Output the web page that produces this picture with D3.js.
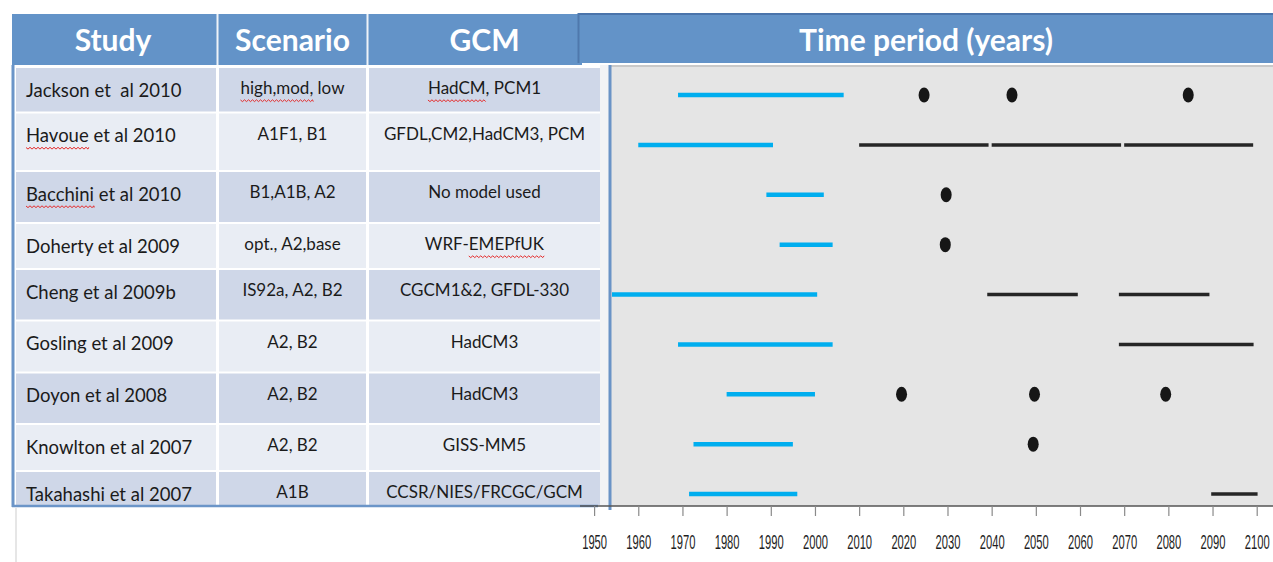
<!DOCTYPE html>
<html>
<head>
<meta charset="utf-8">
<script src="https://cdn.jsdelivr.net/npm/d3@7"></script>
<style>
  body { margin: 0; background: #fff; }
  svg { display: block; }
  text { white-space: pre; }
</style>
</head>
<body>
<div id="chart"></div>
<script>
// table columns
const studies = [
  "Jackson et  al 2010", "Havoue et al 2010", "Bacchini et al 2010",
  "Doherty et al 2009", "Cheng et al 2009b", "Gosling et al 2009",
  "Doyon et al 2008", "Knowlton et al 2007", "Takahashi et al 2007"
];
const scenarios = [
  "high,mod, low", "A1F1, B1", "B1,A1B, A2", "opt., A2,base", "IS92a, A2, B2",
  "A2, B2", "A2, B2", "A2, B2", "A1B"
];
const gcms = [
  "HadCM, PCM1", "GFDL,CM2,HadCM3, PCM", "No model used", "WRF-EMEPfUK",
  "CGCM1&2, GFDL-330", "HadCM3", "HadCM3", "GISS-MM5", "CCSR/NIES/FRCGC/GCM"
];

// time periods (years), one entry per study
const baseline = [
  [1969, 2006.5], [1960, 1990.5], [1989, 2002], [1992, 2004], [1954, 2000.5],
  [1969, 2004], [1980, 2000], [1972.5, 1995], [1971.5, 1996]
];
const future = [
  [],
  [[2010, 2039.3], [2040, 2069.3], [2070, 2099.2]],
  [],
  [],
  [[2039, 2059.5], [2068.8, 2089.3]],
  [[2068.8, 2099.3]],
  [],
  [],
  [[2089.7, 2100.2]]
];
const futurePoints = [
  [2024.7, 2044.6, 2084.5], [], [2029.7], [2029.5], [], [],
  [2019.6, 2049.7, 2079.4], [2049.4], []
];
const tickYears = [1950, 1960, 1970, 1980, 1990, 2000, 2010, 2020, 2030,
  2040, 2050, 2060, 2070, 2080, 2090, 2100];

const headers = ["Study", "Scenario", "GCM"];
const plotTitle = "Time period (years)";

// words with the spell-check squiggle
const spellMarks = [
  { row: 0, col: 1, word: "high,mod," },
  { row: 0, col: 2, word: "HadCM" },
  { row: 1, col: 0, word: "Havoue" },
  { row: 2, col: 0, word: "Bacchini" },
  { row: 3, col: 2, word: "EMEPfUK" },
];

// layout
const width = 1273, height = 562;
const headTop = 13, headBottom = 65;
const cols = [
  { x0: 16, x1: 216, align: "start", size: 18.5 },
  { x0: 219, x1: 366, align: "middle", size: 17 },
  { x0: 369, x1: 600, align: "middle", size: 17 },
];
const rowEdges = [67, 112.5, 171, 223, 269, 320.5, 372.5, 424, 471, 506];
const plotLeft = 611, axisY = 506;
const font = "Lato, 'Open Sans', sans-serif";

const svg = d3.select("#chart").append("svg")
  .attr("width", width).attr("height", height);

const x = d3.scaleLinear().domain([1950, 2100]).range([594.1, 1256.7]);
const y = d3.scalePoint().domain(studies).range([95, 494]);

// plot background
svg.append("rect")
  .attr("x", plotLeft).attr("y", headBottom)
  .attr("width", width - plotLeft).attr("height", axisY - headBottom)
  .attr("fill", "#e5e5e5");
svg.append("rect")
  .attr("x", 600).attr("y", headBottom)
  .attr("width", plotLeft - 600).attr("height", axisY - headBottom)
  .attr("fill", "#f2f3f5");
svg.append("line")
  .attr("x1", plotLeft).attr("x2", width)
  .attr("y1", headBottom + 1).attr("y2", headBottom + 1)
  .attr("stroke", "#c9c9c9").attr("stroke-width", 2);

// table rows
const rows = svg.append("g").selectAll("g")
  .data(studies)
  .join("g");

rows.each(function (d, i) {
  const g = d3.select(this);
  const top = rowEdges[i] + 1, bottom = rowEdges[i + 1] - 1;
  const values = [studies[i], scenarios[i], gcms[i]];
  cols.forEach((c, j) => {
    g.append("rect")
      .attr("x", c.x0).attr("y", top)
      .attr("width", c.x1 - c.x0).attr("height", bottom - top)
      .attr("fill", i % 2 === 0 ? "#cfd7e8" : "#e9edf4");
    g.append("text")
      .attr("class", `cell-${i}-${j}`)
      .attr("x", c.align === "start" ? c.x0 + 10 : (c.x0 + c.x1) / 2)
      .attr("y", top + (j === 0 ? 24 : 22))
      .attr("dominant-baseline", "middle")
      .attr("text-anchor", c.align)
      .attr("font-family", font)
      .attr("font-size", c.size)
      .attr("fill", "#1b1b1b")
      .text(values[j]);
  });
});

// spell-check squiggles
spellMarks.forEach((m) => {
  const node = svg.select(`.cell-${m.row}-${m.col}`).node();
  const str = node.textContent;
  const idx = str.indexOf(m.word);
  if (idx < 0) return;
  const xs = node.getStartPositionOfChar(idx).x;
  const xe = node.getEndPositionOfChar(idx + m.word.length - 1).x;
  const by = +node.getAttribute("y") + 10;
  let p = `M${xs},${by}`;
  for (let px = xs, k = 0; px < xe; px += 2, k++) {
    p += `L${Math.min(px + 2, xe)},${by + (k % 2 === 0 ? 1.6 : -0.2)}`;
  }
  svg.append("path").attr("d", p)
    .attr("fill", "none").attr("stroke", "#e52a2a").attr("stroke-width", 1);
});

// table borders
svg.append("line")
  .attr("x1", 13).attr("x2", 13).attr("y1", headBottom).attr("y2", axisY + 1)
  .attr("stroke", "#6b95c8").attr("stroke-width", 3);
svg.append("line")
  .attr("x1", 12).attr("x2", 598).attr("y1", axisY).attr("y2", axisY)
  .attr("stroke", "#6b95c8").attr("stroke-width", 2.5);
svg.append("line")
  .attr("x1", 16).attr("x2", 16).attr("y1", axisY + 2).attr("y2", height)
  .attr("stroke", "#e6e6e6").attr("stroke-width", 2);
svg.append("line")
  .attr("x1", plotLeft - 1).attr("x2", plotLeft - 1)
  .attr("y1", headBottom).attr("y2", axisY + 4)
  .attr("stroke", "#6a93c6").attr("stroke-width", 3);

// header
svg.append("rect")
  .attr("x", 12).attr("y", headTop + 1)
  .attr("width", 570).attr("height", headBottom - headTop - 1)
  .attr("fill", "#6393c8");
[cols[1].x0 - 1.5, cols[2].x0 - 1.5].forEach((cx) => {
  svg.append("line")
    .attr("x1", cx).attr("x2", cx).attr("y1", headTop + 1).attr("y2", headBottom)
    .attr("stroke", "#eef2f8").attr("stroke-width", 2);
});
svg.append("rect")
  .attr("x", 578).attr("y", headTop)
  .attr("width", width - 578).attr("height", 50)
  .attr("fill", "#6393c8");
svg.append("line")
  .attr("x1", 578).attr("x2", width).attr("y1", headTop + 1).attr("y2", headTop + 1)
  .attr("stroke", "#4a74ab").attr("stroke-width", 2);
svg.append("line")
  .attr("x1", 578.5).attr("x2", 578.5).attr("y1", headTop).attr("y2", headTop + 50)
  .attr("stroke", "#4f78ad").attr("stroke-width", 2);

svg.append("g").selectAll("text")
  .data(headers)
  .join("text")
  .attr("x", (d, i) => (cols[i].x0 + cols[i].x1) / 2 - (i === 0 ? 3 : 0))
  .attr("y", 43)
  .attr("text-anchor", "middle")
  .attr("dominant-baseline", "middle")
  .attr("font-family", font)
  .attr("font-weight", "bold")
  .attr("font-size", 30)
  .attr("fill", "#fff")
  .text((d) => d);

svg.append("text")
  .attr("x", 926).attr("y", 43)
  .attr("text-anchor", "middle")
  .attr("dominant-baseline", "middle")
  .attr("font-family", font)
  .attr("font-weight", "bold")
  .attr("font-size", 30)
  .attr("fill", "#fff")
  .text(plotTitle);

// marks
const marks = svg.append("g");

marks.selectAll("line.base")
  .data(studies)
  .join("line")
  .attr("class", "base")
  .attr("x1", (d, i) => Math.max(x(baseline[i][0]), plotLeft + 1))
  .attr("x2", (d, i) => x(baseline[i][1]))
  .attr("y1", (d) => y(d)).attr("y2", (d) => y(d))
  .attr("stroke", "#00aeef").attr("stroke-width", 4.5);

const futureSegs = studies.flatMap((s, i) => future[i].map((f) => ({ s, f })));
marks.selectAll("line.future")
  .data(futureSegs)
  .join("line")
  .attr("class", "future")
  .attr("x1", (d) => x(d.f[0])).attr("x2", (d) => x(d.f[1]))
  .attr("y1", (d) => y(d.s)).attr("y2", (d) => y(d.s))
  .attr("stroke", "#262626").attr("stroke-width", 3.5);

const pts = studies.flatMap((s, i) => futurePoints[i].map((p) => ({ s, p })));
marks.selectAll("ellipse")
  .data(pts)
  .join("ellipse")
  .attr("cx", (d) => x(d.p)).attr("cy", (d) => y(d.s))
  .attr("rx", 5.5).attr("ry", 7.5)
  .attr("fill", "#161616");

// axis
svg.append("line")
  .attr("x1", 580).attr("x2", width).attr("y1", axisY).attr("y2", axisY)
  .attr("stroke", "#555").attr("stroke-width", 1.5);

const axis = svg.append("g")
  .attr("transform", `translate(0,${axisY})`)
  .call(d3.axisBottom(x).tickValues(tickYears).tickFormat(d3.format("d"))
    .tickSize(10).tickSizeOuter(0));
axis.select(".domain").remove();
axis.selectAll(".tick line").attr("stroke", "#8a8a8a").attr("stroke-width", 1.2);
axis.selectAll(".tick text")
  .attr("y", 0).attr("dy", 0)
  .attr("transform", "translate(0,43) scale(0.56,1)")
  .attr("font-family", "'Liberation Sans', Arial, sans-serif")
  .attr("font-size", 20)
  .attr("fill", "#1e1e1e");
</script>
</body>
</html>
